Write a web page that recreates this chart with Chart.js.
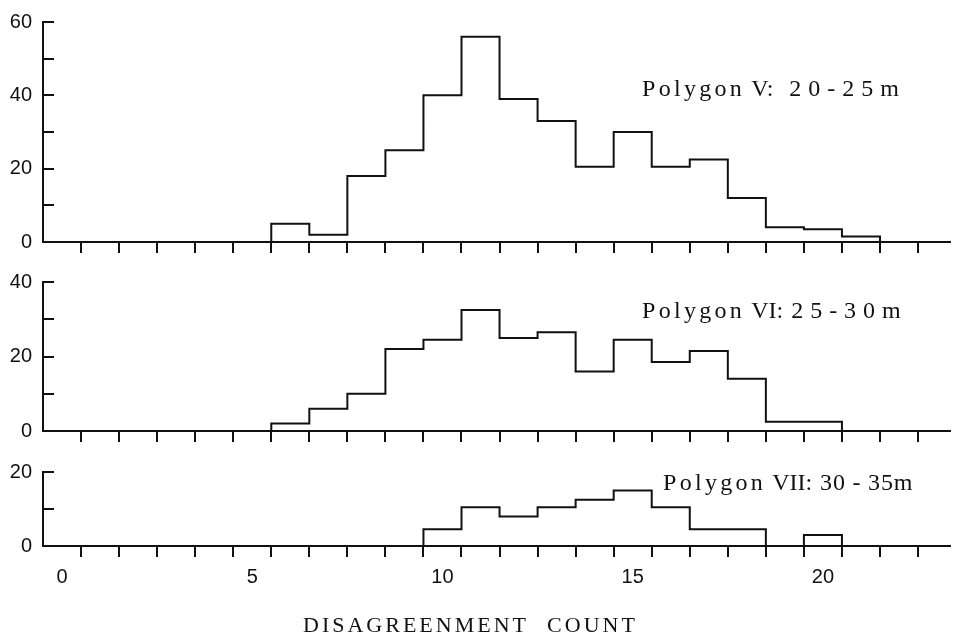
<!DOCTYPE html>
<html lang="en">
<head>
  <meta charset="UTF-8">
  <title>Disagreement count histograms</title>
  <script src="https://cdn.jsdelivr.net/npm/chart.js"></script>
  <style>
    body { margin: 0; background: #fff; width: 953px; height: 639px; position: relative; overflow: hidden; }
    canvas { position: absolute; left: 0; }
    .label { position: absolute; font-family: "Liberation Serif", serif; font-size: 24px; line-height: 1; color: #111; white-space: nowrap; }
    .label span { display: inline-block; }
    .word { letter-spacing: 3.3px; }
    .axis-title { font-size: 22px; letter-spacing: 3px; word-spacing: 10px; }
  </style>
</head>
<body>
  <canvas id="chartV" width="953" height="262" style="top:0px"></canvas>
  <canvas id="chartVI" width="953" height="190" style="top:262px"></canvas>
  <canvas id="chartVII" width="953" height="187" style="top:452px"></canvas>

  <div class="label" style="left:642px; top:76px"><span class="word">Polygon</span><span style="margin-left:6px">V:</span><span style="margin-left:16px; letter-spacing:7px">20-25m</span></div>
  <div class="label" style="left:642px; top:298px"><span class="word">Polygon</span><span style="margin-left:6px">VI:</span><span style="margin-left:8px; letter-spacing:7px">25-30m</span></div>
  <div class="label" style="left:663px; top:470px"><span class="word">Polygon</span><span style="margin-left:6px">VII:</span><span style="margin-left:8px; letter-spacing:0.8px">30 - 35m</span></div>
  <div class="label axis-title" style="left:303px; top:614px">DISAGREENMENT COUNT</div>

<script>
  // disagreement count of each bin
  const counts = [6, 7, 8, 9, 10, 11, 12, 13, 14, 15, 16, 17, 18, 19, 20, 21]
  const polygonV = [5, 2, 18, 25, 40, 56, 39, 33, 20.5, 30, 20.5, 22.5, 12, 4, 3.5, 1.5]
  const polygonVI = [2, 6, 10, 22, 24.5, 32.5, 25, 26.5, 16, 24.5, 18.5, 21.5, 14, 2.5, 2.5, 0]
  const polygonVII = [0, 0, 0, 0, 4.5, 10.5, 8, 10.5, 12.5, 15, 10.5, 4.5, 4.5, 0, 3, 0]
  const xLabels = [0, 5, 10, 15, 20]

  function stepPoints(values) {
    var pts = [{ x: counts[0] - 0.5, y: 0 }]
    for (var i = 0; i < counts.length; i++) {
      pts.push({ x: counts[i] - 0.5, y: values[i] })
    }
    pts.push({ x: counts[counts.length - 1] + 0.5, y: 0 })
    return pts
  }

  function makeChart(id, values, yMax, padTop, xHeight, showLabels) {
    return new Chart(document.getElementById(id), {
      type: 'line',
      data: {
        datasets: [{
          data: stepPoints(values),
          stepped: true,
          borderColor: '#111',
          borderWidth: 2,
          pointRadius: 0,
          fill: false,
          clip: false
        }]
      },
      options: {
        responsive: false,
        animation: false,
        layout: { padding: { top: padTop, right: 3, left: 0, bottom: 0 } },
        plugins: { legend: { display: false }, tooltip: { enabled: false } },
        scales: {
          x: {
            type: 'linear',
            min: -0.5,
            max: 23.34,
            afterFit: function (s) {
              s.height = xHeight
              s.paddingLeft = 0
              s.paddingRight = 0
            },
            afterBuildTicks: function (s) {
              // tick marks on bin edges, labels on bin centres
              var t = []
              for (var k = 0; k <= 22; k++) t.push({ value: k + 0.5 })
              xLabels.forEach(function (v) { t.push({ value: v }) })
              s.ticks = t
            },
            border: { color: '#111', width: 2 },
            grid: {
              drawOnChartArea: false,
              tickLength: 11,
              lineWidth: 2,
              color: function (c) {
                var v = c.tick ? c.tick.value : 0
                return (v > 0 && Math.abs(v % 1) === 0.5) ? '#111' : 'rgba(0,0,0,0)'
              }
            },
            ticks: {
              autoSkip: false,
              maxRotation: 0,
              minRotation: 0,
              padding: 8,
              color: '#111',
              font: { family: 'Liberation Sans', size: 20 },
              callback: function (v) {
                return (showLabels && xLabels.includes(v)) ? String(v) : ''
              }
            }
          },
          y: {
            min: 0,
            max: yMax,
            afterFit: function (s) {
              s.width = 43
              s.paddingTop = 0
              s.paddingBottom = 0
            },
            border: { color: '#111', width: 2 },
            grid: { drawOnChartArea: false, tickLength: -11, lineWidth: 2, color: '#111' },
            ticks: {
              stepSize: 10,
              padding: 22,
              color: '#111',
              font: { family: 'Liberation Sans', size: 20 },
              callback: function (v) { return v % 20 === 0 ? v : '' }
            }
          }
        }
      }
    })
  }

  makeChart('chartV', polygonV, 60, 22, 20, false)
  makeChart('chartVI', polygonVI, 40, 20, 21, false)
  makeChart('chartVII', polygonVII, 20, 20, 93, true)
</script>
</body>
</html>
